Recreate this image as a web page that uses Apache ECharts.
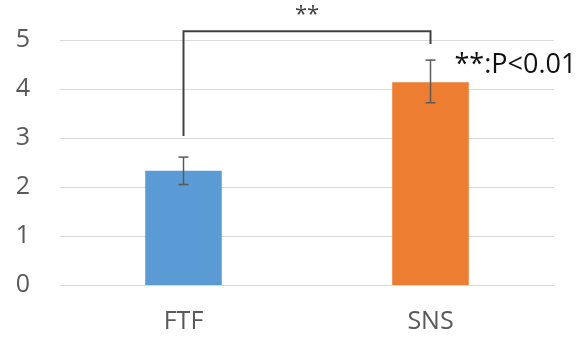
<!DOCTYPE html>
<html><head><meta charset="utf-8">
<script src="https://cdn.jsdelivr.net/npm/echarts@6/dist/echarts.min.js"></script>
<style>html,body{margin:0;padding:0;background:#fff}#c{width:587px;height:338px}</style>
</head><body><div id="c"></div>
<script>
var categories = ['FTF', 'SNS'];
var means = [2.33, 4.14];
var errLow = [2.05, 3.72];
var errHigh = [2.61, 4.59];
var barColors = ['#5B9BD5', '#ED7D31'];
var yTicks = [0, 1, 2, 3, 4, 5];
// bracket: [left end value, top value, right end value]
var bracket = [3.04, 5.18, 4.92];
var sigLabel = '**';
var noteLabel = '**:P<0.01';
var noteAt = [1, 4.49];
var sigAt = 5.52;

var FONT = '"Open Sans", "Noto Sans", sans-serif';
var chart = echarts.init(document.getElementById('c'), null, {renderer: 'canvas'});
chart.setOption({
  animation: false,
  grid: {left: 60, right: 33, top: 40, bottom: 53},
  xAxis: {
    type: 'category', data: categories,
    axisLine: {lineStyle: {color: '#D9D9D9', width: 1}},
    axisTick: {show: false},
    axisLabel: {color: '#595959', fontSize: 25, fontFamily: FONT, margin: 24}
  },
  yAxis: {
    type: 'value', min: yTicks[0], max: yTicks[yTicks.length - 1], interval: 1,
    axisLine: {show: false}, axisTick: {show: false},
    splitLine: {lineStyle: {color: '#D9D9D9', width: 1}},
    axisLabel: {color: '#595959', fontSize: 25, fontFamily: FONT, margin: 30}
  },
  series: [
    {
      type: 'bar', barWidth: '31%',
      data: means.map(function (v, i) { return {value: v, itemStyle: {color: barColors[i]}}; }),
      z: 2
    },
    {
      type: 'custom', z: 3,
      data: categories.map(function (c, i) { return [i, errLow[i], errHigh[i]]; }),
      renderItem: function (params, api) {
        var lo = api.coord([api.value(0), api.value(1)]);
        var hi = api.coord([api.value(0), api.value(2)]);
        var hw = 5;
        var st = {stroke: '#595959', lineWidth: 1.5};
        return {type: 'group', children: [
          {type: 'line', shape: {x1: lo[0], y1: lo[1], x2: hi[0], y2: hi[1]}, style: st},
          {type: 'line', shape: {x1: lo[0] - hw, y1: lo[1], x2: lo[0] + hw, y2: lo[1]}, style: st},
          {type: 'line', shape: {x1: hi[0] - hw, y1: hi[1], x2: hi[0] + hw, y2: hi[1]}, style: st}
        ]};
      }
    },
    {
      type: 'custom', z: 4, clip: false,
      data: [[0, 1]],
      renderItem: function (params, api) {
        var a = api.coord([0, bracket[0]]);
        var b = api.coord([0, bracket[1]]);
        var c = api.coord([1, bracket[1]]);
        var d = api.coord([1, bracket[2]]);
        var sy = api.coord([0, sigAt])[1];
        var sx = (b[0] + c[0]) / 2;
        var n = api.coord(noteAt);
        return {type: 'group', children: [
          {type: 'polyline', shape: {points: [a, b, c, d]},
           style: {stroke: '#404040', lineWidth: 2, fill: null}},
          {type: 'text', x: sx, y: sy,
           style: {text: sigLabel, fill: '#404040', font: '22px ' + FONT, align: 'center', verticalAlign: 'middle'}},
          {type: 'text', x: n[0] + 24, y: n[1],
           style: {text: noteLabel, fill: '#111', font: '27px ' + FONT, align: 'left', verticalAlign: 'middle'}}
        ]};
      }
    }
  ]
});
</script></body></html>
